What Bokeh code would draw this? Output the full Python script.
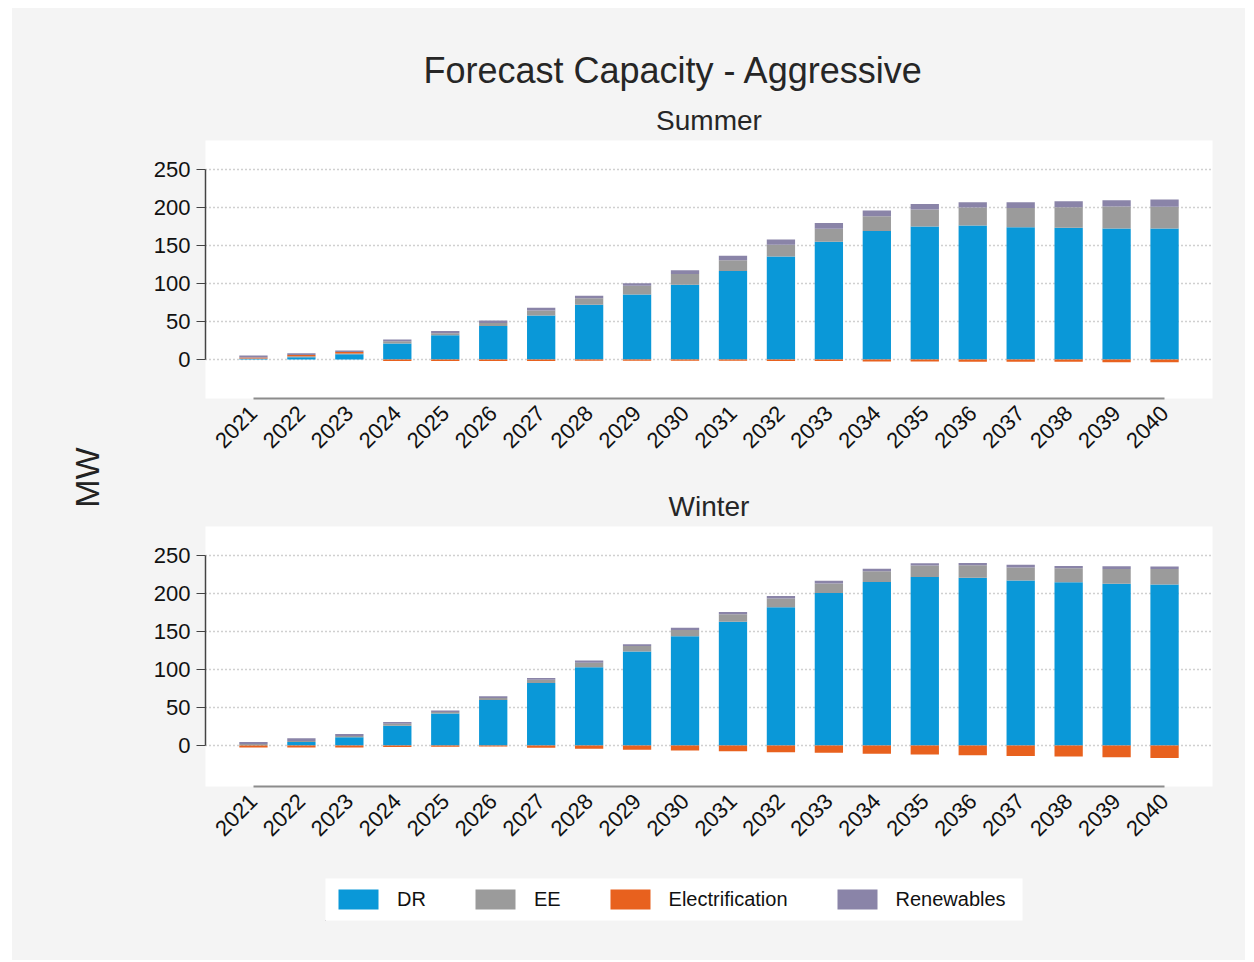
from math import pi
from bokeh.plotting import figure
from bokeh.layouts import row, column
from bokeh.models import (ColumnDataSource, Range1d, FixedTicker, Title, Legend,
                          LegendItem, Label)
from bokeh.embed import file_html
from bokeh.resources import INLINE

# ---------------- data ----------------
years = [2021, 2022, 2023, 2024, 2025, 2026, 2027, 2028, 2029, 2030,
         2031, 2032, 2033, 2034, 2035, 2036, 2037, 2038, 2039, 2040]
year_labels = ["2021", "2022", "2023", "2024", "2025", "2026", "2027", "2028", "2029", "2030",
               "2031", "2032", "2033", "2034", "2035", "2036", "2037", "2038", "2039", "2040"]
y_ticks = [0, 50, 100, 150, 200, 250]
series = ["DR", "EE", "Electrification", "Renewables"]

summer_dr = [1, 3, 7, 21, 32, 44, 58, 72, 85.5, 98.5, 116.5, 135.5, 155, 169, 175, 176.5, 174, 173.5, 172.5, 172.5]
summer_ee = [0.5, 1.3, 0.8, 3, 2.7, 4, 6.5, 8.5, 11.5, 14, 14, 15.5, 17, 19.5, 22.5, 23.5, 25.5, 27, 28.7, 28.5]
summer_elec = [1.2, 1.5, 2, -2, -2, -2, -2, -1.5, -1.5, -1.5, -1.5, -2, -2, -2.5, -2.5, -3, -3, -3, -3.5, -3.5]
summer_ren = [2.5, 2.5, 1.9, 2.5, 2.7, 3.5, 3.5, 3.5, 3.5, 4.8, 6, 7, 7.7, 7.5, 7, 7, 7.5, 7.8, 8.3, 9.5]

winter_dr = [0.5, 4.5, 11, 26, 42, 60, 82.5, 103, 124, 144, 163, 182, 201, 215.5, 222, 221, 217.5, 215, 213, 212]
winter_ee = [1.5, 1.5, 1.5, 2.5, 2, 2.5, 4, 6, 7, 8, 10, 11.5, 12.5, 14, 15, 16.5, 17, 18.5, 19.5, 20.5]
winter_elec = [-2.5, -2.5, -2.5, -2, -1.5, -1.3, -3, -4.4, -5.5, -6.6, -7.5, -8.8, -9.7, -11, -11.9, -12.8, -13.7, -14.6, -15.5, -16.4]
winter_ren = [2.5, 3.5, 2.5, 2.5, 2, 2.5, 2.5, 3, 2.5, 3, 3, 3.5, 3.5, 3.5, 3, 3, 3.5, 3, 3.5, 3.3]

colors = ["#0a98d8", "#9b9b9b", "#e8611e", "#8a84a8"]   # DR, EE, Electrification, Renewables

FONT = "Liberation Sans"
BG = "#f4f4f4"


def style_title(t, size, standoff):
    t.text_font = FONT
    t.text_font_size = size
    t.text_font_style = "normal"
    t.text_color = "#262626"
    t.standoff = standoff


def make_panel(fig_title, dr, ee, elec, ren, frame_h, y_lo, y_hi, min_top, min_bottom):
    src = ColumnDataSource(dict(
        year=years, dr=dr, ee=ee, ren=ren,
        elec_pos=[max(v, 0) for v in elec],
        elec_neg=[min(v, 0) for v in elec],
    ))
    p = figure(frame_width=1007, frame_height=frame_h,
               x_range=Range1d(2020, 2041), y_range=Range1d(y_lo, y_hi),
               output_backend="svg", toolbar_location=None,
               min_border_left=81, min_border_right=33,
               min_border_top=min_top, min_border_bottom=min_bottom,
               background_fill_color="white", border_fill_color=BG,
               outline_line_color=None, title=fig_title, frame_align=False)

    p.vbar_stack(["dr", "ee", "elec_pos", "ren"], x="year", width=0.59,
                 color=colors, line_color=None, source=src)
    p.vbar(x="year", top=0, bottom="elec_neg", width=0.59,
           color=colors[2], line_color=None, source=src)

    p.xaxis.ticker = FixedTicker(ticks=years)
    p.xaxis.major_label_overrides = {y: s for y, s in zip(years, year_labels)}
    p.xaxis.major_label_orientation = pi / 4
    p.xaxis.major_label_text_font = FONT
    p.xaxis.major_label_text_font_size = "22px"
    p.xaxis.major_label_text_color = "#111111"
    p.xaxis.major_tick_out = 0
    p.xaxis.major_tick_in = 0
    p.xaxis.minor_tick_out = 0
    p.xaxis.minor_tick_in = 0
    p.xaxis.axis_line_color = "#8c8c8c"
    p.xaxis.axis_line_width = 2
    p.xaxis.bounds = (years[0], years[-1])
    p.xaxis.major_label_standoff = 11

    p.yaxis.ticker = FixedTicker(ticks=y_ticks)
    p.yaxis.major_label_text_font = FONT
    p.yaxis.major_label_text_font_size = "22px"
    p.yaxis.major_label_text_color = "#111111"
    p.yaxis.major_tick_out = 9
    p.yaxis.major_tick_in = 0
    p.yaxis.minor_tick_out = 0
    p.yaxis.minor_tick_in = 0
    p.yaxis.axis_line_color = "#444444"
    p.yaxis.major_tick_line_color = "#444444"
    p.yaxis.axis_line_width = 1.5
    p.yaxis.bounds = (y_ticks[0], y_ticks[-1])
    p.yaxis.major_label_standoff = 6

    p.xgrid.visible = False
    p.ygrid.ticker = FixedTicker(ticks=y_ticks)
    p.ygrid.grid_line_color = "#a0a0a0"
    p.ygrid.grid_line_dash = "1 3"
    p.ygrid.grid_line_width = 1.5
    return p


# top panel: outer title is the figure title, "Summer" sits next to the frame
top = make_panel("Forecast Capacity - Aggressive", summer_dr, summer_ee, summer_elec, summer_ren,
                 258, -51.3, 288.2, 132, 72)
style_title(top.title, "36px", 15)
top.title.align = "left"
top.title.offset = 218
summer_t = Title(text="Summer", align="center")
style_title(summer_t, "28px", 9)
top.add_layout(summer_t, "above")

bot = make_panel("Winter", winter_dr, winter_ee, winter_elec, winter_ren,
                 260, -54, 288.5, 56, 70)
style_title(bot.title, "28px", 9)
bot.title.align = "center"

# legend strip: its white frame is the legend box; keys are proxies outside the visible range
leg = figure(frame_width=697, frame_height=42, x_range=Range1d(0, 1), y_range=Range1d(0, 1),
             output_backend="svg", toolbar_location=None,
             min_border_left=201, min_border_right=223, min_border_top=22, min_border_bottom=40,
             x_axis_location=None, y_axis_location=None, frame_align=False,
             border_fill_color=BG, background_fill_color="white", outline_line_color=None)
leg.grid.visible = False
proxies = [leg.vbar(x=[-5], top=[-5], bottom=[-6], width=0.5, color=c, line_color=None)
           for c in colors]
legend = Legend(items=[LegendItem(label=s, renderers=[r]) for s, r in zip(series, proxies)],
                orientation="horizontal", location="center_left",
                background_fill_alpha=0.0, border_line_color=None,
                glyph_width=50, glyph_height=25,
                label_text_font=FONT, label_text_font_size="20px", label_text_color="#111111",
                spacing=44, padding=8, label_standoff=14, margin=8)
leg.add_layout(legend)

# shared y-axis title
mw = figure(width=112, height=952, x_range=Range1d(0, 112), y_range=Range1d(0, 952),
            output_backend="svg", toolbar_location=None, min_border=0,
            x_axis_location=None, y_axis_location=None, frame_align=False,
            border_fill_color=BG, background_fill_color=BG, outline_line_color=None)
mw.grid.visible = False
mw.add_layout(Label(x=74, y=483, text="MW", angle=pi / 2, text_align="center",
                    text_baseline="middle", text_font=FONT, text_font_size="34px",
                    text_color="#222222"))

layout = row(mw, column(top, bot, leg, spacing=0), spacing=0, margin=(8, 0, 0, 12),
             styles={"background-color": BG})

open("out.html", "w").write(file_html(layout, INLINE))
